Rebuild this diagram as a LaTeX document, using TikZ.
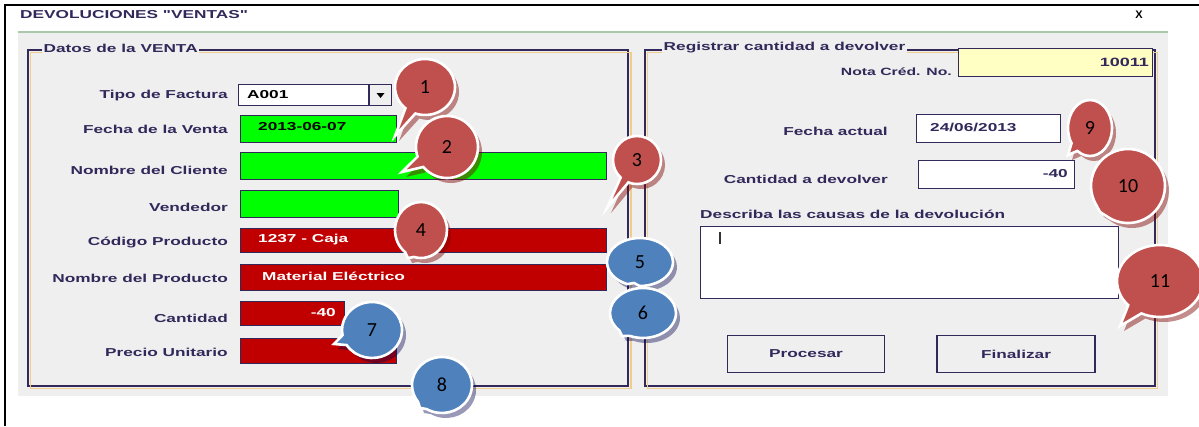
\documentclass[tikz,border=0pt]{standalone}
\usepackage{fontspec}
\setmainfont{Liberation Sans}
\newfontfamily\uifont[FakeStretch=1.5]{Liberation Sans}
\newfontfamily\numfont{Carlito}
\usetikzlibrary{shapes.callouts,shadows}
\definecolor{dlg}{RGB}{239,239,239}
\definecolor{edge}{RGB}{50,40,90}
\definecolor{fringe}{RGB}{240,205,140}
\definecolor{okgreen}{RGB}{0,255,0}
\definecolor{badred}{RGB}{192,0,0}
\definecolor{calred}{RGB}{192,80,77}
\definecolor{calblue}{RGB}{79,129,189}
\definecolor{pale}{RGB}{255,255,196}
\definecolor{topline}{RGB}{170,200,170}
\tikzset{
  uitxt/.style={inner sep=0pt,font=\uifont\fontsize{11.5}{12}\selectfont\bfseries},
  lbl/.style={uitxt,anchor=east,text=edge},
  fld/.style={draw=edge,line width=1.3pt,anchor=north west,inner sep=0pt},
  fldtxt/.style={uitxt},
  framebox/.style={draw=edge,line width=1.2pt},
  framein/.style={draw=fringe,line width=1.4pt},
  ftitle/.style={uitxt,fill=dlg,inner sep=1.5pt,anchor=west,text=edge},
  bubble/.style={ellipse callout,draw=white,line width=2.6pt,fill=#1,
     font=\numfont\fontsize{20}{21}\selectfont,text=black,inner sep=0pt,
     callout pointer arc=22},
  redbubble/.style={bubble=calred,
     drop shadow={shadow xshift=4pt,shadow yshift=-5pt,fill=black!50!red,opacity=.45}},
  bluebubble/.style={bubble=calblue,
     drop shadow={shadow xshift=4pt,shadow yshift=-5pt,fill=black!70!blue,opacity=.4}},
  btn/.style={uitxt,draw=edge,line width=1.3pt,fill=dlg,text=edge}
}
\begin{document}
\begin{tikzpicture}[x=1pt,y=-1pt]
\useasboundingbox (0,0) rectangle (1199,426);
\fill[white] (0,0) rectangle (1199,426);
% outer frame lines
\coordinate (ol) at (5,426);
\coordinate (otl) at (5,5);
\coordinate (otr) at (1199,5);
\draw[line width=2pt,black] (ol) -- (otl) -- (otr);
% dialog title
\node[uitxt,anchor=west,text=edge] (title) at (20,15) {DEVOLUCIONES "VENTAS"};
\node[inner sep=0pt,font=\fontsize{11}{12}\selectfont\bfseries] (close) at (1139,15) {X};
% dialog body
\fill[dlg] (18,32) rectangle (1168,396);
\draw[topline,line width=1.2pt] (18,32) -- (1168,32);
% left frame
\draw[framebox] (28,50) rectangle (628,386);
\draw[framein] (30.5,52.5) rectangle (631,388.5);
\node[ftitle] (lft) at (42,48) {Datos de la VENTA};
% right frame
\draw[framebox] (645,50) rectangle (1155,386);
\draw[framein] (647.5,52.5) rectangle (1157.5,388.5);
\node[ftitle] (rft) at (662,48) {Registrar cantidad a devolver};

% left fields
\node[lbl] (l1) at (228,96) {Tipo de Factura};
\node[fld,fill=white,minimum width=130pt,minimum height=21pt] (f1) at (238,84) {};
\node[fldtxt,anchor=west] (v1) at (247,94.5) {A001};
\node[draw=edge,line width=1pt,fill=dlg,minimum width=22pt,minimum height=21pt,anchor=north west,inner sep=0pt] (dd) at (369,84) {};
\fill[black] ([xshift=-4pt,yshift=2pt]dd.center) -- ([xshift=4pt,yshift=2pt]dd.center) -- ([yshift=-3pt]dd.center) -- cycle;

\node[lbl] (l2) at (228,129) {Fecha de la Venta};
\node[fld,fill=okgreen,minimum width=156pt,minimum height=27pt] (f2) at (240,115) {};
\node[fldtxt,anchor=west] (v2) at (258,127) {2013-06-07};

\node[lbl] (l3) at (228,170) {Nombre del Cliente};
\node[fld,fill=okgreen,minimum width=366pt,minimum height=27pt] (f3) at (240,152) {};

\node[lbl] (l4) at (228,207) {Vendedor};
\node[fld,fill=okgreen,minimum width=158pt,minimum height=27pt] (f4) at (240,190) {};

\node[lbl] (l5) at (228,242) {Código Producto};
\node[fld,fill=badred,minimum width=366pt,minimum height=24pt] (f5) at (240,228) {};
\node[fldtxt,anchor=west,text=white] (v5) at (258,240) {1237 - Caja};

\node[lbl] (l6) at (228,278) {Nombre del Producto};
\node[fld,fill=badred,minimum width=366pt,minimum height=26pt] (f6) at (240,264) {};
\node[fldtxt,anchor=west,text=white] (v6) at (262,276) {Material Eléctrico};

\node[lbl] (l7) at (228,318) {Cantidad};
\node[fld,fill=badred,minimum width=104pt,minimum height=24pt] (f7) at (240,301) {};
\node[fldtxt,anchor=east,text=white] (v7) at (336,313) {-40};

\node[lbl] (l8) at (228,352) {Precio Unitario};
\node[fld,fill=badred,minimum width=156pt,minimum height=25pt] (f8) at (240,338) {};
\node[fldtxt,anchor=east,text=white] (v8) at (386,350) {45};

% right side
\node[lbl,font=\uifont\fontsize{10.5}{11}\selectfont\bfseries] (l9) at (952,72) {Nota Créd. No.};
\node[fld,fill=pale,minimum width=194pt,minimum height=28pt] (f9) at (958,48) {};
\node[fldtxt,anchor=east,font=\uifont\fontsize{12}{13}\selectfont\bfseries,text=edge] (v9) at (1149,62) {10011};

\node[lbl] (l10) at (888,131) {Fecha actual};
\node[fld,fill=white,minimum width=144pt,minimum height=28pt] (f10) at (916,114) {};
\node[fldtxt,anchor=west,text=edge] (v10) at (930,127.5) {24/06/2013};

\node[lbl] (l11) at (888,179) {Cantidad a devolver};
\node[fld,fill=white,minimum width=156pt,minimum height=28pt] (f11) at (918,160) {};
\node[fldtxt,anchor=east,text=edge] (v11) at (1068,174) {-40};

\node[lbl,anchor=west] (l12) at (700,214) {Describa las causas de la devolución};
\node[fld,fill=white,minimum width=418pt,minimum height=72pt] (f12) at (700,226) {};
\coordinate (cur1) at (720,232);
\coordinate (cur2) at (720,244);
\draw[line width=1.3pt,black!80] (cur1) -- (cur2);

\node[btn,minimum width=157pt,minimum height=37pt] (b1) at (806,354) {Procesar};
\node[btn,minimum width=158pt,minimum height=37pt] (b2) at (1016,354) {Finalizar};

% callouts
\node[redbubble,minimum width=60pt,minimum height=56pt,callout absolute pointer={(395,136)}] (c1) at (425,87) {1};
\node[redbubble,minimum width=62pt,minimum height=62pt,callout absolute pointer={(402,172)}] (c2) at (447,147) {2};
\node[redbubble,minimum width=48pt,minimum height=48pt,callout absolute pointer={(607,208)}] (c3) at (637,160) {3};
\node[redbubble,minimum width=52pt,minimum height=56pt,callout absolute pointer={(408,258)}] (c4) at (421,230) {4};
\node[bluebubble,minimum width=66pt,minimum height=48pt,callout absolute pointer={(634,283)}] (c5) at (640,262) {5};
\node[bluebubble,minimum width=66pt,minimum height=50pt,callout absolute pointer={(622,336)}] (c6) at (643,313) {6};
\node[bluebubble,minimum width=60pt,minimum height=56pt,callout absolute pointer={(334,344)}] (c7) at (372,330) {7};
\node[bluebubble,minimum width=60pt,minimum height=56pt,callout absolute pointer={(420,408)}] (c8) at (442,385) {8};
\node[redbubble,minimum width=44pt,minimum height=56pt,callout absolute pointer={(1068,155)}] (c9) at (1090,128) {9};
\node[redbubble,minimum width=74pt,minimum height=74pt,callout absolute pointer={(1100,212)}] (c10) at (1128,186) {10};
\node[redbubble,minimum width=86pt,minimum height=72pt,callout absolute pointer={(1120,326)}] (c11) at (1160,281) {11};
\end{tikzpicture}
\end{document}
